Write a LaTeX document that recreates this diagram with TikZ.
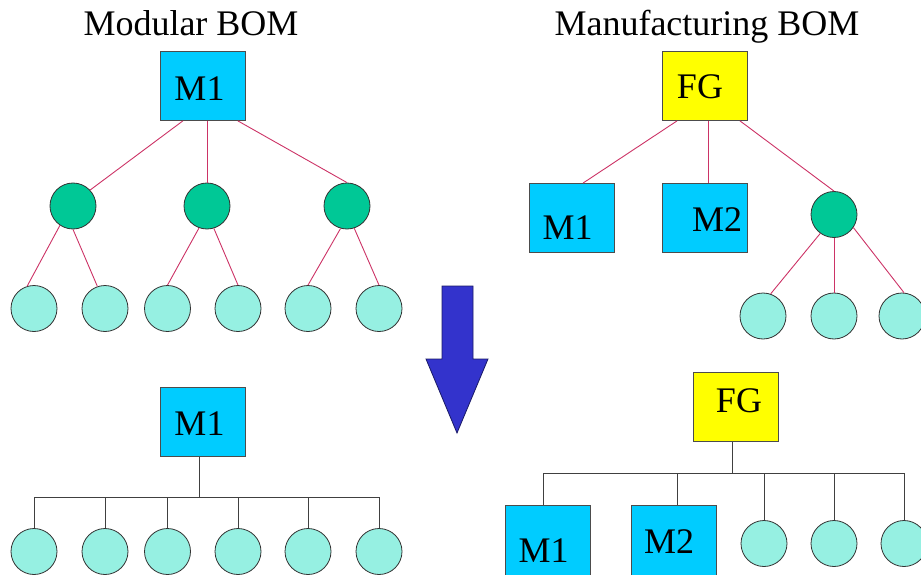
\documentclass[tikz,border=0pt]{standalone}
\usepackage{fontspec}
\setmainfont{Liberation Serif}
\usetikzlibrary{calc}

\definecolor{modblue}{HTML}{00CCFF}
\definecolor{fgyellow}{HTML}{FFFF00}
\definecolor{grpgreen}{HTML}{00C896}
\definecolor{leafcyan}{HTML}{96F0E2}
\definecolor{linkred}{HTML}{CC3366}
\definecolor{arrowblue}{HTML}{3333CC}
\definecolor{arrowedge}{HTML}{1A1A66}

\begin{document}
\begin{tikzpicture}[x=1pt,y=-1pt,
  bigtext/.style={font=\fontsize{36}{40}\selectfont},
  title/.style={bigtext, anchor=base, inner sep=0pt},
  item/.style={draw=black!70, line width=0.8pt, minimum width=85pt,
    minimum height=69pt, inner sep=0pt},
  tallitem/.style={item, minimum height=72pt},
  module/.style={item, fill=modblue},
  product/.style={item, fill=fgyellow},
  lbl/.style={bigtext, inner sep=0pt},
  group/.style={circle, draw=black!80, line width=0.8pt, fill=grpgreen,
    minimum size=46pt, inner sep=0pt},
  part/.style={circle, draw=black!80, line width=0.8pt, fill=leafcyan,
    minimum size=46pt, inner sep=0pt},
  redlink/.style={draw=linkred, line width=0.9pt},
  buslink/.style={draw=black!75, line width=0.8pt},
]
\useasboundingbox (0,0) rectangle (921,575);

% ---------- titles ----------
\node[title] (ttl1) at (191,36) {Modular BOM};
\node[title] (ttl2) at (707,36) {Manufacturing BOM};

% ---------- modular BOM, multi-level ----------
\node[module, label={[lbl,xshift=-3.5pt,yshift=-2.5pt]center:M1}] (m1top) at (203,86) {};
\node[group] (g1) at (73,206) {};
\node[group] (g2) at (207,206) {};
\node[group] (g3) at (347,206) {};
\foreach \i/\x in {1/34,2/105,3/167.5,4/238,5/308,6/379}
  \node[part] (t\i) at (\x,308.5) {};

\draw[redlink] (m1top.240) -- (g1.43);
\draw[redlink] (g2 |- m1top.south) -- (g2.north);
\draw[redlink] (m1top.315) -- (g3.north);
\draw[redlink] (g1.236) -- (t1.107);
\draw[redlink] (g1.270) -- (t2.109);
\draw[redlink] (g2.250) -- (t3.north);
\draw[redlink] (g2.287) -- (t4.north);
\draw[redlink] (g3.254) -- (t5.north);
\draw[redlink] (g3.288) -- (t6.north);

% ---------- manufacturing BOM, multi-level ----------
\node[product, label={[lbl,xshift=-4.5pt,yshift=-0.5pt]center:FG}] (fgtop) at (704.5,86) {};
\node[module, label={[lbl,xshift=-4pt,yshift=-9.5pt]center:M1}] (tm1) at (571.5,218) {};
\node[module, label={[lbl,xshift=12.5pt,yshift=-2pt]center:M2}] (tm2) at (704.5,218) {};
\node[group] (g4) at (834,214.5) {};
\foreach \i/\x in {1/763,2/834,3/902}
  \node[part] (u\i) at (\x,316) {};

\draw[redlink] ($(fgtop.south)+(-27.5,0)$) -- ($(tm1.north)+(11.5,0)$);
\draw[redlink] ($(fgtop.south)+(3.5,0)$) -- ($(tm2.north)+(3.5,0)$);
\draw[redlink] ($(fgtop.south)+(35.5,0)$) -- (g4.north);
\draw[redlink] (g4.234) -- (u1.71);
\draw[redlink] (g4.south) -- (u2.north);
\draw[redlink] (g4.326) -- (u3.85);

% ---------- transformation arrow ----------
\draw[fill=arrowblue, draw=arrowedge, line width=0.8pt, line join=miter]
  (442,286) -- (473,286) -- (473,359) -- (488,359) -- (457,433)
  -- (426,359) -- (442,359) -- cycle;

% ---------- modular BOM, flattened ----------
\node[module, label={[lbl,xshift=-3.5pt,yshift=-1.5pt]center:M1}] (m1bot) at (203,422) {};
\coordinate (busL) at (199,497);
\foreach \i/\x in {1/34,2/105,3/167.5,4/238,5/308,6/379}
  \node[part] (b\i) at (\x,551.5) {};
\draw[buslink] (m1bot.south -| busL) -- (busL);
\foreach \i in {1,...,6}
  \draw[buslink] (busL) -| (b\i.north);

% ---------- manufacturing BOM, flattened ----------
\node[product, label={[lbl,xshift=3.5pt,yshift=6pt]center:FG}] (fgbot) at (735.5,407) {};
\coordinate (busR) at (732,473);
\node[module, tallitem, label={[lbl,xshift=-4pt,yshift=-10pt]center:M1}] (bm1) at (547.5,541) {};
\node[module, tallitem, label={[lbl,xshift=-5pt,yshift=-0.5pt]center:M2}] (bm2) at (674,541) {};
\foreach \i/\x in {1/764,2/834,3/904}
  \node[part] (v\i) at (\x,543.5) {};
\draw[buslink] (fgbot.south -| busR) -- (busR);
\draw[buslink] (busR) -| ($(bm1.north)+(-4.5,0)$);
\draw[buslink] (busR) -| ($(bm2.north)+(3,0)$);
\foreach \i in {1,2,3}
  \draw[buslink] (busR) -| (v\i.north);
\end{tikzpicture}
\end{document}
